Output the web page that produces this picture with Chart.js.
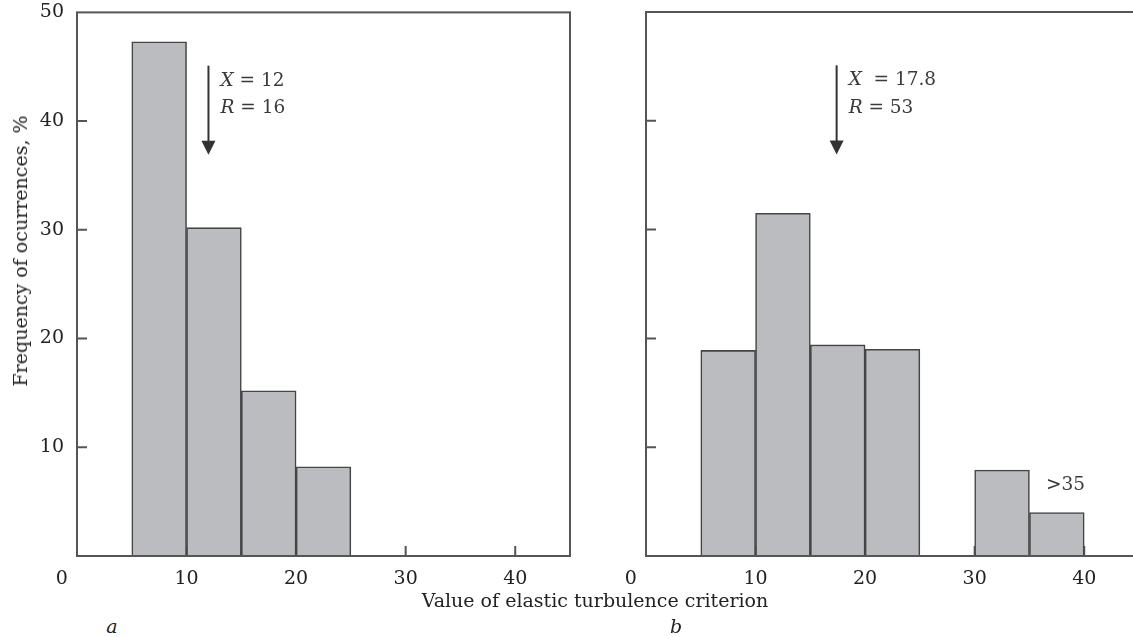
<!DOCTYPE html>
<html>
<head>
<meta charset="utf-8">
<script src="https://cdn.jsdelivr.net/npm/chart.js@4.4.1/dist/chart.umd.min.js"></script>
<style>
    html, body { margin: 0; padding: 0; background: #fff; overflow: hidden; }
    body { width: 1133px; height: 637px; position: relative; font-family: 'DejaVu Serif', serif; color: #222; }
    #wrapA { position: absolute; left: 0; top: -12px; width: 585px; height: 612px; }
    #wrapB { position: absolute; left: 600px; top: 0; width: 545px; height: 600px; }
    .txt { position: absolute; font-size: 19px; white-space: nowrap; color: #222; }
    #yTitle { left: 20px; top: 251px; transform: translate(-50%, -50%) rotate(-90deg); }
    #xTitle { left: 595px; top: 600px; transform: translate(-50%, -50%); }
    .panel { font-style: italic; transform: translate(-50%, -50%); top: 626px; }
</style>
</head>
<body>
<div id="wrapA"><canvas id="chartA"></canvas></div>
<div id="wrapB"><canvas id="chartB"></canvas></div>
<div class="txt" id="yTitle">Frequency of ocurrences, %</div>
<div class="txt" id="xTitle">Value of elastic turbulence criterion</div>
<div class="txt panel" style="left:112px;">a</div>
<div class="txt panel" style="left:676px;">b</div>
<script>
// histogramas: inicio de cada classe (largura 5) e frequencia em %
const binWidth = 5;
const binsA = [5, 10, 15, 20];
const freqA = [47.3, 30.2, 15.2, 8.2];
const binsB = [5, 10, 15, 20, 30, 35];
const freqB = [18.9, 31.5, 19.4, 19.0, 7.9, 4.0];

const xTicks = [0, 10, 20, 30, 40];
const yTicks = [0, 10, 20, 30, 40, 50];
const innerTicks = [10, 20, 30, 40];

// seta da media e textos
const notesA = { at: 12, from: 45.1, to: 36.9, lines: [['X', ' = 12', 43.7], ['R', ' = 16', 41.2]], extra: null };
const notesB = { at: 17.4, from: 45.1, to: 36.9, lines: [['X', '  = 17.8', 43.7], ['R', ' = 53', 41.2]], extra: { text: '>35', x: 38.3, y: 6.5 } };

const serif = 'DejaVu Serif';
const ink = '#222';

const histFrame = {
    id: 'histFrame',
    beforeDatasetsDraw(chart) {
        const { ctx, chartArea: a, scales: { x, y } } = chart;
        ctx.save();
        ctx.strokeStyle = '#555';
        ctx.lineWidth = 2;
        ctx.beginPath();
        innerTicks.forEach(v => {
            const py = y.getPixelForValue(v);
            ctx.moveTo(a.left, py);
            ctx.lineTo(a.left + 10, py);
            const px = x.getPixelForValue(v);
            ctx.moveTo(px, a.bottom);
            ctx.lineTo(px, a.bottom - 10);
        });
        ctx.stroke();
        ctx.restore();
    },
    afterDatasetsDraw(chart) {
        const { ctx, chartArea: a } = chart;
        ctx.save();
        ctx.strokeStyle = '#555';
        ctx.lineWidth = 2;
        ctx.strokeRect(a.left, a.top, a.right - a.left, a.bottom - a.top);
        ctx.restore();
    }
};

const meanArrow = {
    id: 'meanArrow',
    afterDraw(chart, args, opts) {
        const { ctx, scales: { x, y } } = chart;
        const px = x.getPixelForValue(opts.at);
        const top = y.getPixelForValue(opts.from);
        const tip = y.getPixelForValue(opts.to);
        ctx.save();
        ctx.strokeStyle = '#333';
        ctx.fillStyle = '#333';
        ctx.lineWidth = 2;
        ctx.beginPath();
        ctx.moveTo(px, top);
        ctx.lineTo(px, tip - 12);
        ctx.stroke();
        ctx.beginPath();
        ctx.moveTo(px - 7, tip - 14);
        ctx.lineTo(px + 7, tip - 14);
        ctx.lineTo(px, tip);
        ctx.closePath();
        ctx.fill();

        ctx.fillStyle = '#3a3a3a';
        ctx.textBaseline = 'middle';
        opts.lines.forEach(l => {
            const py = y.getPixelForValue(l[2]);
            ctx.font = 'italic 18.5px "' + serif + '"';
            ctx.fillText(l[0], px + 12, py);
            const w = ctx.measureText(l[0]).width;
            ctx.font = '18.5px "' + serif + '"';
            ctx.fillText(l[1], px + 12 + w, py);
        });
        if (opts.extra) {
            ctx.font = '18.5px "' + serif + '"';
            ctx.textAlign = 'center';
            ctx.fillText(opts.extra.text, x.getPixelForValue(opts.extra.x), y.getPixelForValue(opts.extra.y));
        }
        ctx.restore();
    }
};

function makeHist(id, bins, freq, notes, yWidth, padTop, padRight, showY) {
    const ctx = document.getElementById(id).getContext('2d');
    return new Chart(ctx, {
        type: 'bar',
        data: {
            datasets: [{
                data: bins.map((b, i) => ({ x: b + binWidth / 2, y: freq[i] })),
                backgroundColor: '#bbbcbf',
                borderColor: '#454545',
                borderWidth: 1.6,
                barPercentage: 1,
                categoryPercentage: 1
            }]
        },
        options: {
            responsive: true,
            maintainAspectRatio: false,
            animation: false,
            layout: { padding: { top: padTop, right: padRight, left: 0, bottom: 0 } },
            plugins: {
                legend: { display: false },
                tooltip: { enabled: false },
                meanArrow: notes
            },
            scales: {
                x: {
                    type: 'linear',
                    min: 0,
                    max: 45,
                    offset: false,
                    grid: { display: false, drawTicks: false, offset: false },
                    border: { display: false },
                    afterBuildTicks: s => { s.ticks = xTicks.map(v => ({ value: v })); },
                    afterFit: s => { s.height = 44; },
                    ticks: {
                        color: ink,
                        padding: 12,
                        maxRotation: 0,
                        autoSkip: false,
                        font: { family: serif, size: 19 },
                        // o zero fica um pouco a esquerda do eixo, como no original
                        callback: v => (v === 0 ? '0\u2007\u2007 ' : v)
                    }
                },
                y: {
                    min: 0,
                    max: 50,
                    grid: { display: false, drawTicks: false },
                    border: { display: false },
                    afterBuildTicks: s => { s.ticks = yTicks.map(v => ({ value: v })); },
                    afterFit: s => { s.width = yWidth; },
                    ticks: {
                        display: showY,
                        color: ink,
                        padding: 13,
                        font: { family: serif, size: 19 },
                        callback: v => (v === 0 ? '' : v)
                    }
                }
            }
        },
        plugins: [histFrame, meanArrow]
    });
}

document.addEventListener('DOMContentLoaded', () => {
    makeHist('chartA', binsA, freqA, notesA, 77, 0, 15, true);
    makeHist('chartB', binsB, freqB, notesB, 46, 12, 6, false);
});
</script>
</body>
</html>
